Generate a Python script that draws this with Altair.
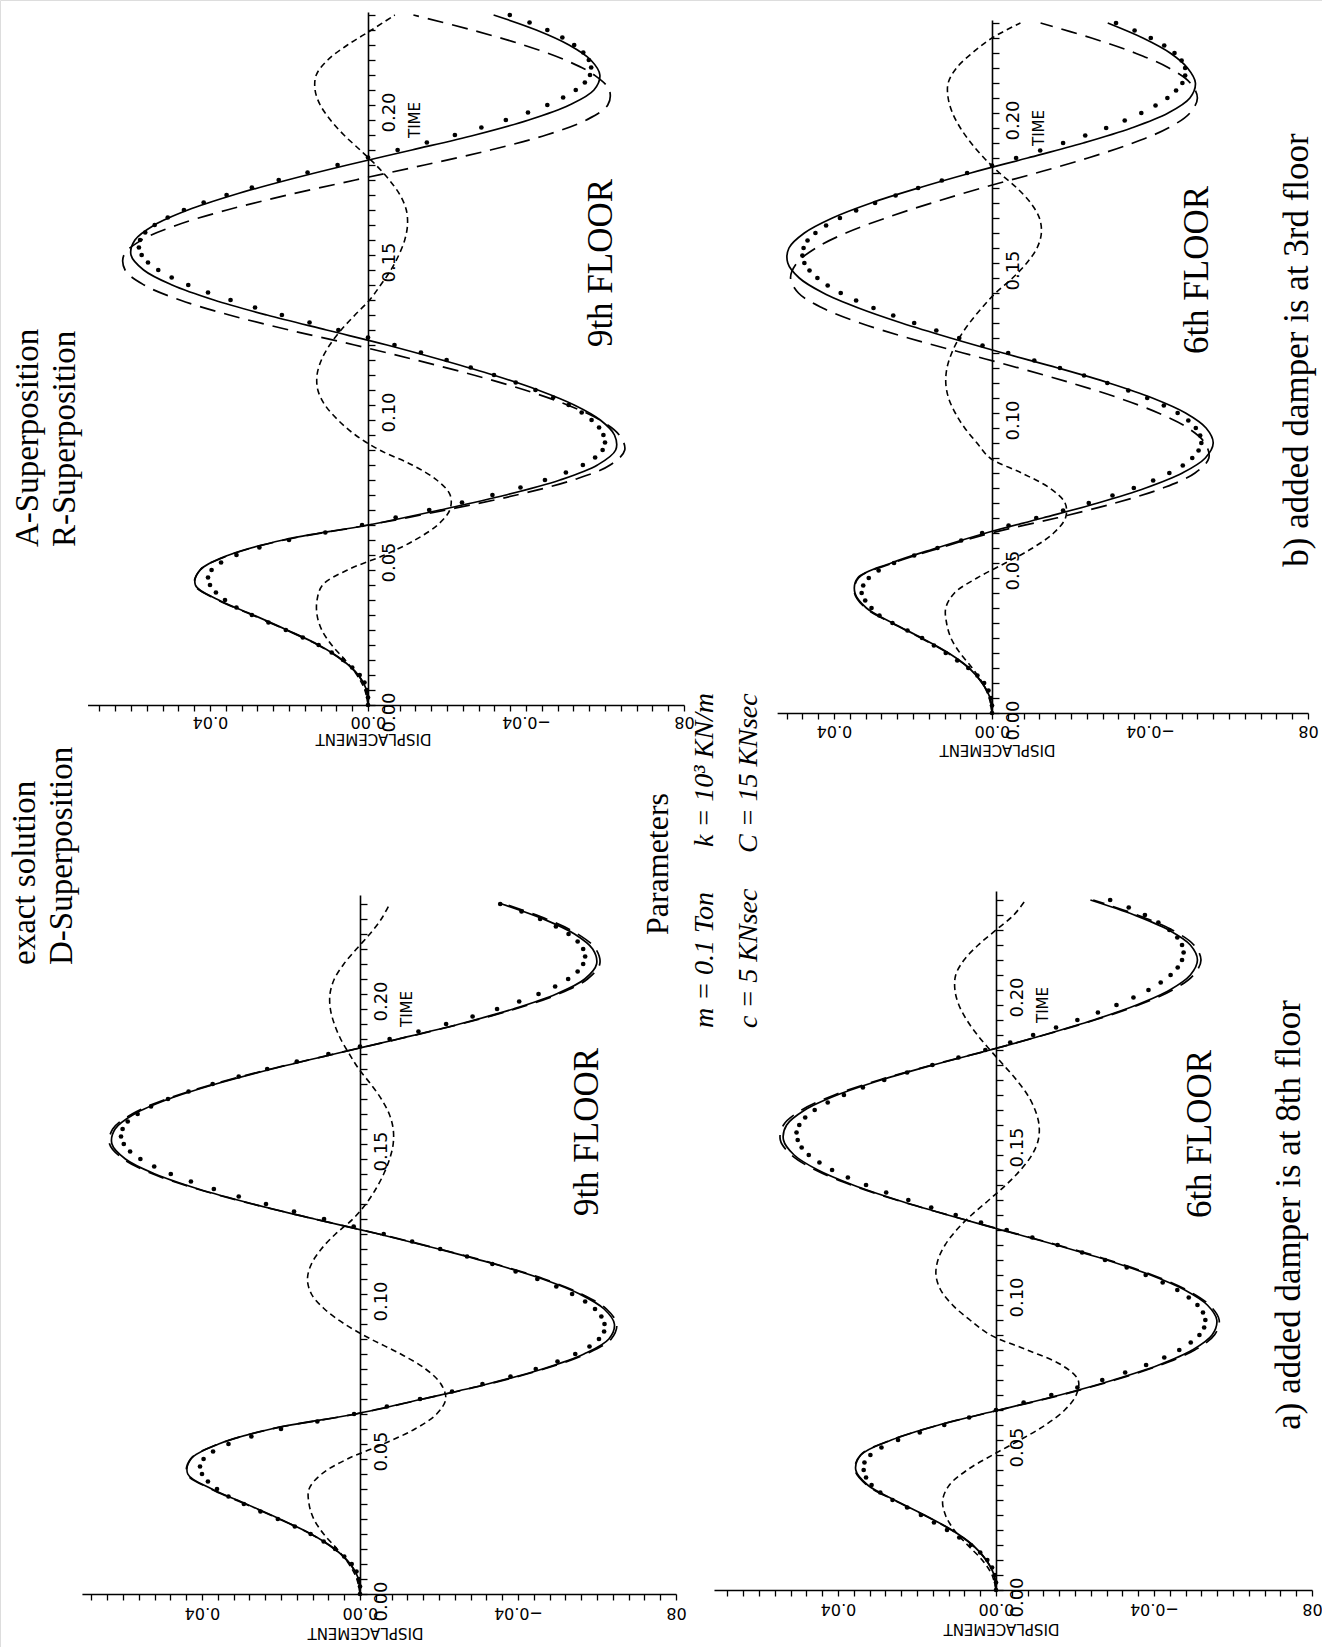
import altair as alt
import pandas as pd

PAGE_W, PAGE_H = 1322, 1647
PX_PER_DISP = 3950.0   # pixels per metre of displacement
PX_PER_TIME = 3000.0   # pixels per second

# sample times
T_LINE = [i / 200 for i in range(47)]   # 0.000 .. 0.230 s
T_DOT = [i / 400 for i in range(93)]    # 0.0000 .. 0.2300 s
DISP_TICKS_ALL = [i / 250 for i in range(-20, 19)]   # every 0.004
TIME_TICKS = [i / 200 for i in range(47)]            # every 0.005

# ---------------- b) damper at 3rd floor, 9th FLOOR (top-left) ----------------
TL_EXACT = [0.0, 0.0004, 0.0025, 0.0065, 0.0125, 0.0205, 0.029, 0.0378, 0.0437, 0.0425,
            0.0352, 0.0215, 0.0, -0.0182, -0.0349, -0.0486, -0.0581, -0.0627, -0.0624, -0.0588,
            -0.0522, -0.043, -0.0317, -0.0187, -0.0048, 0.0105, 0.0256, 0.039, 0.0496, 0.0568,
            0.060, 0.059, 0.0541, 0.0456, 0.0341, 0.0204, 0.0052, -0.0111, -0.0271, -0.0407,
            -0.051, -0.0572, -0.0587, -0.0564, -0.0509, -0.0426, -0.0318]
TL_ASUP = [0.0, 0.0004, 0.0025, 0.0066, 0.0127, 0.0207, 0.0293, 0.038, 0.0439, 0.0425,
           0.035, 0.0212, -0.0002, -0.0197, -0.0376, -0.0519, -0.0613, -0.065, -0.0636, -0.0587,
           -0.0505, -0.0397, -0.0267, -0.0121, 0.0034, 0.020, 0.0351, 0.0476, 0.0567, 0.0615,
           0.0618, 0.0573, 0.0483, 0.0357, 0.0203, 0.0032, -0.0143, -0.031, -0.0451, -0.0553,
           -0.0607, -0.0611, -0.0573, -0.0499, -0.0394, -0.0263, -0.0115]
TL_RSUP = [0.0, 0.0008, 0.0028, 0.0058, 0.0092, 0.0117, 0.0129, 0.0129, 0.0115, 0.0052,
           -0.0042, -0.0119, -0.0176, -0.0207, -0.0208, -0.0174, -0.0112, -0.0029, 0.0032, 0.0076,
           0.0109, 0.0127, 0.0129, 0.0118, 0.0097, 0.0068, 0.0033, -0.0004, -0.0032, -0.0058,
           -0.0078, -0.0093, -0.0100, -0.0097, -0.0081, -0.0054, -0.002, 0.002, 0.0061, 0.0095,
           0.0121, 0.0134, 0.0131, 0.0102, 0.0052, -0.0009, -0.0068]
TL_DSUP = [0.0, 0.0, 0.0003, 0.0009, 0.0021, 0.004, 0.0063, 0.0092, 0.0125, 0.0165,
           0.0208, 0.0252, 0.0294, 0.0333, 0.0362, 0.0385, 0.04, 0.0405, 0.0396, 0.0372,
           0.0333, 0.0275, 0.02, 0.0108, 0.0015,
           -0.007, -0.0155, -0.0238, -0.0315, -0.0386, -0.0448, -0.0501, -0.0544, -0.0575, -0.0594, -0.06,
           -0.0596, -0.0585, -0.0566, -0.0541, -0.0508, -0.0469, -0.0424, -0.0374, -0.0319, -0.026,
           -0.0199, -0.0134, -0.0067, 0.0,
           0.0075, 0.0148, 0.0218, 0.0286, 0.0348, 0.0405, 0.0455, 0.0497, 0.0531, 0.0557, 0.0573, 0.058,
           0.0577, 0.0564, 0.054, 0.0507, 0.0466, 0.0416, 0.0358, 0.0294, 0.0226, 0.0153, 0.0077, 0.0,
           -0.0075, -0.0149, -0.022, -0.0287, -0.0349, -0.0405, -0.0454, -0.0494, -0.0526, -0.0549,
           -0.0562, -0.0565,
           -0.0559, -0.0545, -0.0522, -0.0492, -0.0454, -0.0409, -0.0359]

# ---------------- b) damper at 3rd floor, 6th FLOOR (top-right) ----------------
TR_EXACT = [0.0, 0.0005, 0.0025, 0.0058, 0.011, 0.0178, 0.0252, 0.0318, 0.0347, 0.034,
            0.0255, 0.014, 0.0015, -0.0128, -0.0268, -0.0389, -0.0482, -0.054, -0.056, -0.0542,
            -0.049, -0.0406, -0.0296, -0.0167, -0.0028, 0.0105, 0.0229, 0.0338, 0.0427, 0.0488,
            0.0517, 0.0514, 0.0475, 0.0404, 0.0306, 0.0186, 0.0054, -0.009, -0.0231, -0.0353,
            -0.0446, -0.0501, -0.0515, -0.0495, -0.0451, -0.0382, -0.0293]
TR_ASUP = [0.0, 0.0005, 0.0025, 0.0059, 0.0112, 0.018, 0.0254, 0.032, 0.0348, 0.0338,
           0.025, 0.0132, 0.0002, -0.0163, -0.0312, -0.0433, -0.0514, -0.0549, -0.0539, -0.0496,
           -0.0421, -0.0321, -0.0201, -0.0068, 0.0073, 0.0212, 0.0334, 0.0429, 0.049, 0.051,
           0.0494, 0.0446, 0.037, 0.0269, 0.0153, 0.0026, -0.0112, -0.0243, -0.0357, -0.0446,
           -0.0501, -0.052, -0.0502, -0.0448, -0.0362, -0.0252, -0.0123]
TR_RSUP = [0.0, 0.0007, 0.0024, 0.005, 0.0081, 0.0104, 0.0115, 0.0117, 0.0095, 0.0038,
           -0.0034, -0.0103, -0.0156, -0.0186, -0.0185, -0.0146, -0.0075, 0.0005, 0.0038, 0.0069,
           0.0093, 0.011, 0.0117, 0.0114, 0.0102, 0.0083, 0.0057, 0.0026, -0.0009, -0.0052,
           -0.0088, -0.0114, -0.0125, -0.012, -0.0098, -0.0063, -0.0019, 0.002, 0.0053, 0.008,
           0.01, 0.0111, 0.0111, 0.009, 0.005, 0.0, -0.0072]
TR_DSUP = [0.0, 0.0, 0.0003, 0.0009, 0.002, 0.0037, 0.006, 0.0088, 0.0117, 0.0147,
           0.0177, 0.0214, 0.0252, 0.0285, 0.0305, 0.0321, 0.033, 0.0326, 0.0312, 0.0287,
           0.0248, 0.0197, 0.0138, 0.0078, 0.0025,
           -0.0042, -0.0112, -0.018, -0.0245, -0.0305, -0.0359, -0.0408, -0.0449, -0.0483, -0.0507,
           -0.0523, -0.053,
           -0.0527, -0.0516, -0.0497, -0.047, -0.0435, -0.0393, -0.0345, -0.0292, -0.0233, -0.0172,
           -0.0107, -0.0041,
           0.0024, 0.0083, 0.0141, 0.0197, 0.025, 0.03, 0.0344, 0.0383, 0.0416, 0.0442, 0.0462, 0.0475, 0.048,
           0.0477, 0.0467, 0.0447, 0.042, 0.0385, 0.0344, 0.0296, 0.0244, 0.0187, 0.0127, 0.0063, 0.0,
           -0.0061, -0.0122, -0.018, -0.0236, -0.0289, -0.0336, -0.0378, -0.0414, -0.0444, -0.0466,
           -0.0482, -0.0489,
           -0.0489, -0.048, -0.0462, -0.0436, -0.0402, -0.0361, -0.0314]

# ---------------- a) damper at 8th floor, 9th FLOOR (bottom-left) ----------------
BL_EXACT = [0.0, 0.0004, 0.0025, 0.0064, 0.0124, 0.0203, 0.0288, 0.0375, 0.0436, 0.0428,
            0.0358, 0.0225, 0.0012, -0.0158, -0.0323, -0.0462, -0.0567, -0.063, -0.0644, -0.0618,
            -0.0556, -0.0462, -0.034, -0.0199, -0.0047, 0.0115, 0.0271, 0.0409, 0.0519, 0.0594,
            0.0628, 0.062, 0.0571, 0.0484, 0.0365, 0.0223, 0.0065, -0.0097, -0.0252, -0.0388,
            -0.0497, -0.0569, -0.0599, -0.0589, -0.0543, -0.0464, -0.0359]
BL_ASUP = [0.0, 0.0004, 0.0025, 0.0065, 0.0125, 0.0205, 0.029, 0.0377, 0.0438, 0.0429,
           0.0358, 0.0224, 0.001, -0.016, -0.0326, -0.0466, -0.0572, -0.0636, -0.065, -0.0624,
           -0.0561, -0.0466, -0.0343, -0.0201, -0.0048, 0.0115, 0.0273, 0.0412, 0.0524, 0.0599,
           0.0634, 0.0626, 0.0577, 0.0489, 0.0369, 0.0226, 0.0066, -0.0098, -0.0255, -0.0393,
           -0.0503, -0.0576, -0.0607, -0.0597, -0.0551, -0.0472, -0.0366]
BL_RSUP = [0.0, 0.0008, 0.0028, 0.0058, 0.0092, 0.0117, 0.0129, 0.0129, 0.0097, 0.0032,
           -0.0059, -0.0139, -0.0194, -0.0217, -0.0205, -0.0166, -0.0103, -0.0027, 0.0039, 0.009,
           0.0123, 0.0133, 0.0123, 0.0098, 0.0062, 0.0018, -0.0015, -0.004, -0.006, -0.0075,
           -0.0084, -0.0084, -0.0074, -0.0054, -0.0027, 0.0003, 0.0027, 0.0049, 0.0065, 0.0075,
           0.0076, 0.0065, 0.0041, 0.0009, -0.0025, -0.0054, -0.0075]
BL_DSUP = [0.0, 0.0, 0.0003, 0.0009, 0.0021, 0.004, 0.0063, 0.0092, 0.0125, 0.0165,
           0.0208, 0.0252, 0.0294, 0.0333, 0.0362, 0.0385, 0.04, 0.0405, 0.0396, 0.0372,
           0.0333, 0.0275, 0.02, 0.0108, 0.0015,
           -0.0068, -0.0152, -0.0233, -0.031, -0.0381, -0.0445, -0.05, -0.0545, -0.0581, -0.0605, -0.0618,
           -0.0619, -0.0611, -0.0595, -0.057, -0.0537, -0.0497, -0.0449, -0.0394, -0.0335, -0.0271,
           -0.0203, -0.0132, -0.006,
           0.0016, 0.0091, 0.0167, 0.0238, 0.0307, 0.037, 0.0428, 0.0479, 0.0521, 0.0556, 0.0582, 0.0598, 0.0605,
           0.0601, 0.0588, 0.0563, 0.0529, 0.0486, 0.0434, 0.0373, 0.0307, 0.0235, 0.016, 0.008, 0.0,
           -0.0075, -0.0148, -0.0218, -0.0285, -0.0347, -0.0403, -0.0452, -0.0494, -0.0527, -0.0551,
           -0.0565, -0.057,
           -0.0565, -0.0551, -0.0528, -0.0496, -0.0456, -0.0409, -0.0355]

# ---------------- a) damper at 8th floor, 6th FLOOR (bottom-right) ----------------
BR_EXACT = [0.0, 0.0005, 0.0025, 0.0059, 0.0112, 0.0181, 0.0257, 0.0325, 0.0355, 0.0342,
            0.0265, 0.0145, -0.0007, -0.0162, -0.0297, -0.0412, -0.0497, -0.0547, -0.0559, -0.0535,
            -0.0478, -0.0391, -0.028, -0.0152, -0.0014, 0.0122, 0.025, 0.0362, 0.0451, 0.0511,
            0.0538, 0.053, 0.0484, 0.0402, 0.0291, 0.0159, 0.0015, -0.0121, -0.0247, -0.0356,
            -0.044, -0.0492, -0.051, -0.0492, -0.0437, -0.035, -0.0239]
BR_ASUP = [0.0, 0.0005, 0.0025, 0.006, 0.0113, 0.0183, 0.0259, 0.0327, 0.0357, 0.0343,
           0.0265, 0.0144, -0.0009, -0.0165, -0.0301, -0.0417, -0.0503, -0.0553, -0.0565, -0.054,
           -0.0483, -0.0396, -0.0285, -0.0156, -0.0017, 0.0121, 0.0252, 0.0366, 0.0457, 0.0518,
           0.0546, 0.0538, 0.0492, 0.0409, 0.0296, 0.0162, 0.0016, -0.0122, -0.025, -0.0361,
           -0.0447, -0.05, -0.0519, -0.0501, -0.0446, -0.0358, -0.0246]
BR_RSUP = [0.0, 0.001, 0.0035, 0.0072, 0.0106, 0.0128, 0.0135, 0.0118, 0.0073, 0.0009,
           -0.0061, -0.0125, -0.0174, -0.0203, -0.0208, -0.0166, -0.0079, 0.0014, 0.0066, 0.011,
           0.014, 0.0152, 0.0147, 0.0129, 0.01, 0.0062, 0.0018, -0.0025, -0.0062, -0.0091,
           -0.0107, -0.0109, -0.0099, -0.008, -0.0052, -0.0019, 0.0015, 0.0047, 0.0074, 0.0094,
           0.0104, 0.0102, 0.0081, 0.0045, 0.0, -0.0045, -0.0075]
BR_DSUP = [0.0, 0.0, 0.0003, 0.001, 0.0022, 0.004, 0.0064, 0.0093, 0.0124, 0.0157,
           0.019, 0.0225, 0.0262, 0.0293, 0.0315, 0.0329, 0.0335, 0.0333, 0.0318, 0.029,
           0.0248, 0.0193, 0.0131, 0.0068, 0.0,
           -0.007, -0.014, -0.0206, -0.0269, -0.0327, -0.038, -0.0426, -0.0464, -0.0493, -0.0515,
           -0.0527, -0.053,
           -0.0524, -0.051, -0.0488, -0.0459, -0.0422, -0.0379, -0.0331, -0.0276, -0.0218, -0.0156,
           -0.0092, -0.0027,
           0.0038, 0.0102, 0.0164, 0.0222, 0.0278, 0.0329, 0.0375, 0.0415, 0.0447, 0.0474, 0.0492, 0.0502, 0.0505,
           0.0498, 0.0483, 0.0459, 0.0426, 0.0385, 0.0337, 0.0283, 0.0225, 0.0161, 0.0095, 0.0027,
           -0.0036, -0.0094, -0.0152, -0.0206, -0.0258, -0.0305, -0.0348, -0.0386, -0.0417, -0.0442,
           -0.046, -0.0471, -0.0475,
           -0.0471, -0.0459, -0.0439, -0.0411, -0.0377, -0.0336, -0.0289]

PANELS = [
    dict(exact=TL_EXACT, asup=TL_ASUP, rsup=TL_RSUP, dsup=TL_DSUP, x0=368, y0=705, dmax=0.071, tmax=0.231,
         lab=16, tit=33),
    dict(exact=TR_EXACT, asup=TR_ASUP, rsup=TR_RSUP, dsup=TR_DSUP, x0=992, y0=713, dmax=0.0544, tmax=0.231,
         lab=17, tit=36),
    dict(exact=BL_EXACT, asup=BL_ASUP, rsup=BL_RSUP, dsup=BL_DSUP, x0=360, y0=1594, dmax=0.0704, tmax=0.233,
         lab=18, tit=38),
    dict(exact=BR_EXACT, asup=BR_ASUP, rsup=BR_RSUP, dsup=BR_DSUP, x0=996, y0=1590, dmax=0.0714, tmax=0.233,
         lab=18, tit=38),
]
for p in PANELS:
    assert len(p["exact"]) == len(T_LINE) and len(p["asup"]) == len(T_LINE) and len(p["rsup"]) == len(T_LINE)
    assert len(p["dsup"]) == len(T_DOT)

NBSP = "\u00a0"
DISP_LABEL_EXPR = ("datum.value < -0.0799 ? '" + NBSP * 5 + "08' : "
                   "(abs(datum.value * 25 - round(datum.value * 25)) < 1e-6 ? format(datum.value, '.2f') : '')")
TIME_LABEL_EXPR = "abs(datum.value * 20 - round(datum.value * 20)) < 1e-6 ? format(datum.value, '.2f') : ''"
SANS = "DejaVu Sans"
SERIF = "Liberation Serif"


def panel_layers(p):
    x0, y0 = p["x0"], p["y0"]
    xs = alt.Scale(domain=[-0.08, p["dmax"]],
                   range=[x0 + 0.08 * PX_PER_DISP, x0 - p["dmax"] * PX_PER_DISP],
                   nice=False, zero=False)
    ys = alt.Scale(domain=[0, p["tmax"]],
                   range=[y0, y0 - p["tmax"] * PX_PER_TIME],
                   nice=False, zero=False)
    ticks = [v for v in DISP_TICKS_ALL if v <= p["dmax"] + 1e-9]
    xaxis = alt.Axis(orient="bottom", offset=-(PAGE_H - y0), values=ticks, labelExpr=DISP_LABEL_EXPR,
                     grid=False, domain=True, ticks=True, labels=True,
                     domainColor="black", domainWidth=1.6, tickColor="black", tickWidth=1.3,
                     tickSize=6, labelAngle=180, labelAlign="center", labelBaseline="middle",
                     labelPadding=p["lab"] - 6, labelFont=SANS, labelFontSize=16, labelColor="black",
                     labelOverlap=False, labelFlush=False,
                     title="DISPLACEMENT", titleAngle=180, titleX=x0 + 5, titleY=p["tit"],
                     titleAlign="center", titleBaseline="middle", titleFont=SANS,
                     titleFontSize=15, titleFontWeight="normal", titleColor="black")
    yaxis = alt.Axis(orient="right", offset=-(PAGE_W - x0), values=TIME_TICKS, labelExpr=TIME_LABEL_EXPR,
                     grid=False, domain=True, ticks=True, labels=True,
                     domainColor="black", domainWidth=1.6, tickColor="black", tickWidth=1.3,
                     tickSize=7, labelAngle=270, labelAlign="center", labelBaseline="middle",
                     labelPadding=14, labelOffset=7, labelFont=SANS, labelFontSize=18, labelColor="black",
                     labelOverlap=False, labelFlush=False, title=None)

    df_exact = pd.DataFrame({"t": T_LINE, "d": p["exact"]})
    df_asup = pd.DataFrame({"t": T_LINE, "d": p["asup"]})
    df_rsup = pd.DataFrame({"t": T_LINE, "d": p["rsup"]})
    df_dsup = pd.DataFrame({"t": T_DOT, "d": p["dsup"]})

    exact = alt.Chart(df_exact).mark_line(color="black", strokeWidth=1.7, interpolate="catmull-rom").encode(
        x=alt.X("d:Q", scale=xs, axis=xaxis), y=alt.Y("t:Q", scale=ys, axis=yaxis), order="t:Q")
    asup = alt.Chart(df_asup).mark_line(color="black", strokeWidth=1.7, strokeDash=[16, 9],
                                        interpolate="catmull-rom").encode(
        x=alt.X("d:Q", scale=xs, axis=None), y=alt.Y("t:Q", scale=ys, axis=None), order="t:Q")
    rsup = alt.Chart(df_rsup).mark_line(color="black", strokeWidth=1.6, strokeDash=[6, 4],
                                        interpolate="catmull-rom").encode(
        x=alt.X("d:Q", scale=xs, axis=None), y=alt.Y("t:Q", scale=ys, axis=None), order="t:Q")
    dsup = alt.Chart(df_dsup).mark_circle(color="black", size=22, opacity=1).encode(
        x=alt.X("d:Q", scale=xs, axis=None), y=alt.Y("t:Q", scale=ys, axis=None))
    return [exact, asup, rsup, dsup]


def note(text, x, y, size=35, align="center", style="normal", font=SERIF, baseline="alphabetic"):
    return alt.Chart(pd.DataFrame({"s": [text]})).mark_text(
        angle=270, align=align, baseline=baseline, font=font, fontSize=size,
        fontStyle=style, color="black").encode(text="s:N", x=alt.value(x), y=alt.value(y))


notes = [
    note("A-Superposition", 38, 547, size=33, align="left"),
    note("R-Superposition", 75, 547, size=33, align="left"),
    note("exact solution", 35, 965, size=33, align="left"),
    note("D-Superposition", 72, 965, size=33, align="left"),
    note("9th FLOOR", 612, 263),
    note("6th FLOOR", 1208, 270),
    note("b) added damper is at 3rd floor", 1308, 350),
    note("9th FLOOR", 598, 1132),
    note("6th FLOOR", 1211, 1134),
    note("a) added damper is at 8th floor", 1300, 1215),
    note("Parameters", 668, 864, size=32),
    note("m = 0.1 Ton", 713, 1028, size=28, align="left", style="italic"),
    note("k = 10³ KN/m", 713, 847, size=28, align="left", style="italic"),
    note("c = 5 KNsec", 757, 1028, size=28, align="left", style="italic"),
    note("C = 15 KNsec", 757, 853, size=28, align="left", style="italic"),
]
for p in PANELS:
    notes.append(note("TIME", p["x0"] + 47, p["y0"] - 585, size=15, font=SANS, baseline="middle"))

layers = []
for p in PANELS:
    layers.extend(panel_layers(p))

chart = alt.layer(*layers, *notes).resolve_scale(
    x="independent", y="independent").resolve_axis(x="independent", y="independent").properties(
    width=PAGE_W, height=PAGE_H, padding=0,
    autosize=alt.AutoSizeParams(type="none")).configure_view(stroke=None).configure(background="white")

chart.save("out.html", embed_options={"renderer": "svg", "actions": False})
